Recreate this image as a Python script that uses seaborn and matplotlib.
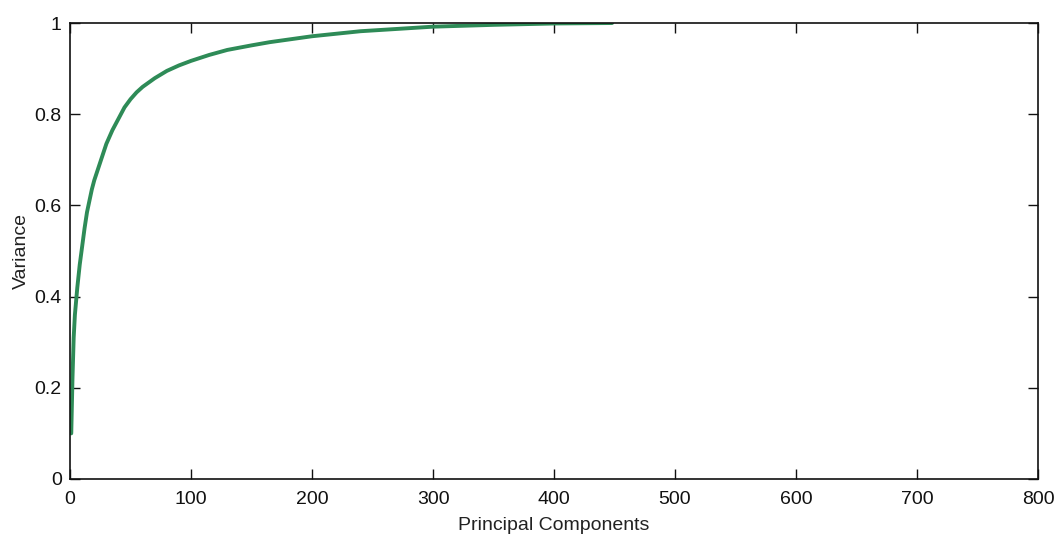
import pandas as pd
import matplotlib
matplotlib.use("Agg")
import matplotlib.pyplot as plt
import seaborn as sb

### DATA - cumulative explained variance
components = [1, 2, 3, 4, 5, 6, 8, 10, 12, 14, 16, 18, 20, 25, 30, 35, 40, 45, 50,
              55, 60, 70, 80, 90, 100, 115, 130, 150, 165, 200, 240, 300, 350, 400, 448]
variance = [0.10, 0.22, 0.31, 0.36, 0.39, 0.42, 0.47, 0.51, 0.55, 0.585, 0.61,
            0.635, 0.655, 0.695, 0.735, 0.765, 0.79, 0.815, 0.833, 0.848, 0.86,
            0.879, 0.895, 0.907, 0.917, 0.930, 0.941, 0.951, 0.958, 0.971, 0.982,
            0.992, 0.996, 0.999, 1.0]
x_ticks = [0, 100, 200, 300, 400, 500, 600, 700, 800]
y_ticks = [0, 0.2, 0.4, 0.6, 0.8, 1]
y_tick_labels = ["0", "0.2", "0.4", "0.6", "0.8", "1"]

df = pd.DataFrame({"Principal Components": components, "Variance": variance})

sb.set_style("white")
plt.rcParams["font.family"] = ["Liberation Sans", "DejaVu Sans"]

fig = plt.figure(figsize=(10.55, 5.43), dpi=100)
ax = fig.add_axes([0.0664, 0.1179, 0.9175, 0.8397])

sb.lineplot(data=df, x="Principal Components", y="Variance", ax=ax,
            color="#2e8b57", linewidth=2.8)

ax.set_xlim(0, 800)
ax.set_ylim(0, 1)
ax.set_xticks(x_ticks)
ax.set_yticks(y_ticks)
ax.set_yticklabels(y_tick_labels)
ax.tick_params(direction="in", length=7, width=1, colors="#111111",
               labelsize=14, top=True, right=True, bottom=True, left=True,
               labeltop=False, labelright=False)
ax.tick_params(axis="x", pad=9)
ax.tick_params(axis="y", pad=6)
for side in ax.spines.values():
    side.set_color("#111111")
    side.set_linewidth(1.2)
ax.set_xlabel("Principal Components", fontsize=14, color="#222222", labelpad=6)
ax.set_ylabel("Variance", fontsize=14, color="#222222", labelpad=3)

fig.savefig("out.png", dpi=100)
